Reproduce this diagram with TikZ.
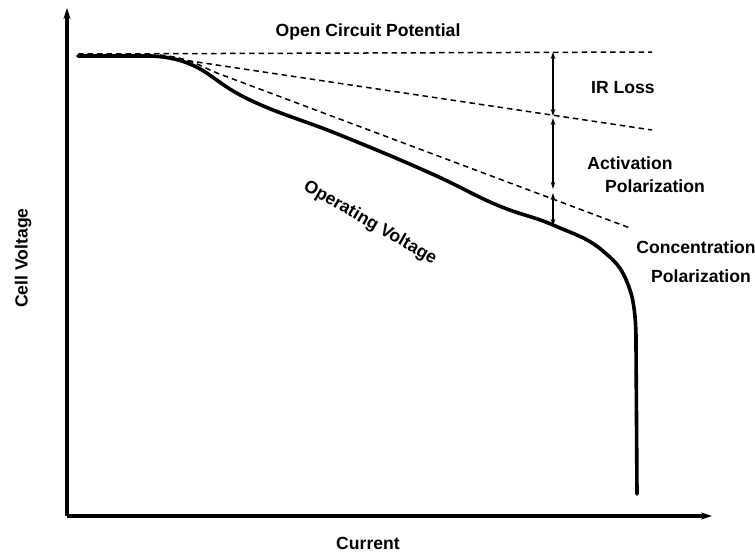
\documentclass[tikz,border=0pt]{standalone}
\usepackage{fontspec}
\setmainfont{Liberation Sans}
\usetikzlibrary{arrows.meta}
\begin{document}
\begin{tikzpicture}[x=1pt,y=-1pt,
  lbl/.style={font=\bfseries\fontsize{17.6}{20}\selectfont, inner sep=0pt},
  axis/.style={line width=3.2pt, -{Stealth[length=11pt,width=7pt]}},
  curve/.style={line width=3.6pt, line cap=round, line join=round},
  dline/.style={line width=1.5pt, dash pattern=on 5.5pt off 4pt},
  dim/.style={line width=1.5pt, {Stealth[length=7pt,width=4.5pt]}-{Stealth[length=7pt,width=4.5pt]}}]
\useasboundingbox (0,0) rectangle (755,555);
% axes
\coordinate (O) at (67,516);
\coordinate (Ytop) at (67,8);
\coordinate (Xend) at (712,516);
\draw[axis] (O) -- (Ytop);
\draw[axis] (O) -- (Xend);
% dashed lines
\coordinate (s) at (78,54);
\coordinate (ocv) at (652,52);
\coordinate (irs) at (150,55);
\coordinate (ir) at (652,130);
\coordinate (acs) at (160,55);
\coordinate (act) at (630,228);
\draw[dline] (s) -- (ocv);
\draw[dline] (irs) -- (ir);
\draw[dline] (acs) .. controls (190,58) and (200,66) .. (217,73) -- (act);
% operating curve
\coordinate (c0) at (78,56);
\coordinate (cend) at (637,494);
\draw[curve] (c0) -- plot[smooth, tension=0.75] coordinates {(145,56) (190,64)
  (250,100) (340,135) (430,173) (497,205)
  (553,225) (603,251) (630,290) (636,345)} -- (cend);
% dimension arrows
\coordinate (a1) at (553,52);
\coordinate (a2) at (553,116);
\coordinate (a3) at (553,118);
\coordinate (a4) at (553,189);
\coordinate (a5) at (553,193);
\coordinate (a6) at (553,226);
\draw[dim] (a1) -- (a2);
\draw[dim] (a3) -- (a4);
\draw[dim] (a5) -- (a6);
% labels
\node[lbl] (ocvl) at (368,32) {Open Circuit Potential};
\node[lbl] (irl) at (623,88) {IR Loss};
\node[lbl] (actl1) at (630,163) {Activation};
\node[lbl] (actl2) at (655,186) {Polarization};
\node[lbl] (conl1) at (696,247) {Concentration};
\node[lbl] (conl2) at (701,276) {Polarization};
\node[lbl, rotate=-30] (opl) at (370,223) {Operating Voltage};
\node[lbl, rotate=90] (yl) at (23,258) {Cell Voltage};
\node[lbl] (xl) at (368,543) {Current};
\end{tikzpicture}
\end{document}
